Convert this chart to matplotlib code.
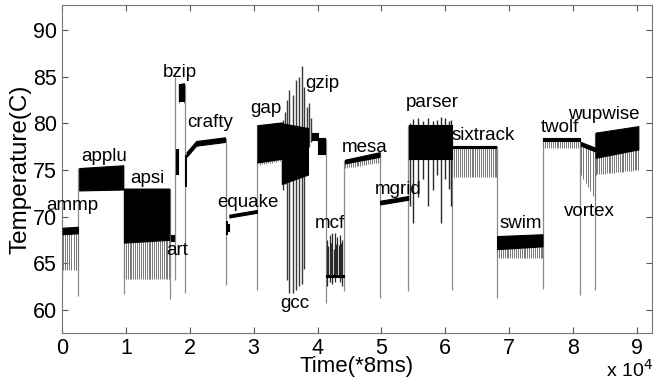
#!/usr/bin/env python3
"""SPEC2000 temperature trace - redrawn as bands, combs and spikes."""
import matplotlib
matplotlib.use('Agg')
import matplotlib.pyplot as plt
import numpy as np

plt.rcParams['font.family'] = ['Liberation Sans', 'DejaVu Sans']

# ====== data (time in units of 1e4 samples, temperature in C) ======
# steady phase of each benchmark: black core band [core, top], grey oscillation down to low
seg_name = ['ammp', 'applu', 'apsi', 'art', 'bzip_a', 'bzip', 'crafty_a', 'crafty_b',
            'equake_a', 'equake', 'gap', 'gcc', 'gzip_a', 'gzip_b', 'mcf', 'mesa', 'mgrid',
            'parser', 'sixtrack', 'swim', 'twolf', 'vortex', 'wupwise']
seg_x0 = [0.01, 0.27, 0.97, 1.70, 1.79, 1.83, 1.95, 2.10, 2.58, 2.62, 3.06, 3.44, 3.92, 4.00,
          4.14, 4.43, 4.98, 5.43, 6.11, 6.81, 7.53, 8.12, 8.35]
seg_x1 = [0.25, 0.96, 1.68, 1.76, 1.81, 1.91, 2.10, 2.55, 2.61, 3.05, 3.44, 3.85, 4.00, 4.12,
          4.41, 4.97, 5.42, 6.10, 6.80, 7.52, 8.10, 8.34, 9.02]
top0 = [68.8, 75.2, 73.0, 68.0, 77.2, 84.2, 76.9, 78.1, 69.2, 70.2, 79.8, 80.0, 79.0, 78.4,
        63.7, 76.1, 71.7, 79.8, 77.6, 67.9, 78.4, 78.0, 79.0]
top1 = [68.9, 75.5, 73.0, 68.0, 77.2, 84.3, 78.1, 78.5, 69.2, 70.7, 80.1, 79.5, 79.0, 78.4,
        63.7, 76.9, 72.2, 79.8, 77.6, 68.1, 78.4, 77.4, 79.7]
core0 = [68.1, 72.8, 67.2, 67.4, 74.6, 82.4, 76.4, 77.6, 68.5, 69.9, 75.8, 73.5, 78.2, 76.7,
         63.5, 75.7, 71.3, 76.2, 77.3, 66.5, 78.1, 77.6, 76.3]
core1 = [68.2, 72.9, 67.5, 67.4, 74.6, 82.4, 77.6, 78.0, 68.5, 70.4, 76.2, 74.5, 78.2, 76.7,
         63.5, 76.4, 71.8, 76.2, 77.3, 66.8, 78.1, 77.0, 77.2]
low0 = [64.3, 72.8, 63.3, 67.4, 74.6, 82.2, 76.4, 77.6, 68.5, 69.9, 75.5, 73.5, 78.2, 76.7,
        63.5, 75.2, 71.3, 76.2, 74.2, 65.5, 77.3, 74.5, 74.5]
low1 = [64.3, 72.9, 63.3, 67.4, 74.6, 82.2, 77.6, 78.0, 68.5, 70.4, 76.0, 74.5, 78.2, 76.7,
        63.5, 75.8, 71.8, 76.2, 74.2, 65.6, 77.3, 71.8, 75.0]

# drops between benchmarks
dip_x = [0.005, 0.255, 0.965, 1.69, 1.775, 1.925, 2.57, 3.05, 4.13, 4.42, 4.975, 5.42,
         6.105, 6.805, 7.525, 8.11, 8.345]
dip_min = [63.0, 61.5, 61.7, 61.1, 63.2, 61.8, 62.6, 62.1, 60.7, 62.0, 61.3, 62.0,
           62.1, 61.3, 62.2, 61.6, 62.1]
dip_top = [68.8, 75.2, 73.0, 73.0, 85.0, 84.2, 78.4, 79.8, 78.3, 76.1, 76.9, 79.8,
           79.8, 77.6, 78.4, 78.4, 79.0]

# irregular spikes (gcc, gzip start, mcf, parser, bzip/crafty)
gcc_x = [3.46, 3.49, 3.52, 3.56, 3.61, 3.66, 3.71, 3.75, 3.79, 3.83, 3.87, 3.90]
gcc_lo = [72.9, 73.5, 63.2, 61.8, 61.8, 62.1, 62.5, 62.8, 64.4, 75.0, 77.5, 78.0]
gcc_hi = [80.4, 81.2, 82.5, 83.6, 83.0, 84.6, 85.0, 86.1, 83.9, 81.8, 82.2, 80.6]
mcf_x = [4.15, 4.17, 4.19, 4.21, 4.23, 4.25, 4.27, 4.29, 4.31, 4.33, 4.35, 4.37, 4.39]
mcf_lo = [62.5, 63.5, 63.0, 63.8, 62.8, 63.6, 63.0, 63.8, 63.5, 63.6, 63.0, 63.4, 62.5]
mcf_hi = [67.5, 66.8, 68.0, 67.2, 68.2, 66.5, 68.2, 67.0, 67.8, 66.9, 68.0, 67.2, 67.5]
parser_x = [5.45, 5.50, 5.57, 5.65, 5.73, 5.81, 5.87, 5.93, 5.99, 6.05, 6.09]
parser_lo = [71.1, 69.3, 72.1, 74.0, 71.1, 72.9, 74.5, 69.3, 74.0, 73.0, 71.1]
parser_hi = [80.0, 80.5, 80.6, 80.3, 80.6, 80.2, 80.4, 80.7, 80.6, 80.2, 80.4]
misc_x = [1.80, 1.94, 2.59]
misc_lo = [74.5, 73.2, 68.0]
misc_hi = [77.0, 76.6, 69.5]

labels = ['ammp', 'applu', 'apsi', 'art', 'bzip', 'crafty', 'equake', 'gap', 'gcc', 'gzip',
          'mcf', 'mesa', 'mgrid', 'parser', 'sixtrack', 'swim', 'twolf', 'vortex', 'wupwise']
label_x = [0.17, 0.66, 1.34, 1.80, 1.85, 2.32, 2.91, 3.19, 3.65, 4.08,
           4.19, 4.73, 5.26, 5.79, 6.60, 7.18, 7.79, 8.26, 8.48]
label_y = [71.2, 76.4, 74.1, 66.4, 85.5, 80.1, 71.5, 81.6, 60.7, 84.3,
           69.3, 77.4, 72.9, 82.2, 78.7, 69.2, 79.6, 70.5, 81.0]

fig = plt.figure(figsize=(6.59, 3.83), dpi=100)
ax = fig.add_axes([0.094, 0.1305, 0.895, 0.8565])

# transitions
ax.vlines(dip_x, dip_min, dip_top, color='#8c8c8c', lw=0.9, zorder=1)

# steady phases
for i in range(len(seg_name)):
    n = max(int((seg_x1[i] - seg_x0[i]) * 36), 2)
    xs = np.linspace(seg_x0[i], seg_x1[i], n)
    core = np.interp(xs, [seg_x0[i], seg_x1[i]], [core0[i], core1[i]])
    top = np.interp(xs, [seg_x0[i], seg_x1[i]], [top0[i], top1[i]])
    low = np.interp(xs, [seg_x0[i], seg_x1[i]], [low0[i], low1[i]])
    if low0[i] < core0[i] - 0.05 or low1[i] < core1[i] - 0.05:
        ax.vlines(xs, low, core, color='#777777', lw=0.7, zorder=2)
    ax.fill_between(xs, core, top, color='black', lw=0.8, edgecolor='black', zorder=3)

ax.vlines(gcc_x, gcc_lo, gcc_hi, color='#3a3a3a', lw=1.0, zorder=2)
ax.vlines(mcf_x, mcf_lo, mcf_hi, color='#2a2a2a', lw=0.9, zorder=2)
ax.vlines(parser_x, parser_lo, parser_hi, color='#2a2a2a', lw=1.0, zorder=2)
ax.vlines(misc_x, misc_lo, misc_hi, color='black', lw=1.4, zorder=3)

for t, x, y in zip(labels, label_x, label_y):
    ax.text(x, y, t, ha='center', va='center', fontsize=13.5, zorder=5)

ax.set_xlim(0, 9.23)
ax.set_ylim(57.5, 92.7)
ax.set_xticks(range(10))
ax.set_yticks(range(60, 91, 5))
ax.tick_params(direction='in', top=True, right=True, labelsize=15.5, length=4, color='#555555')
for s in ax.spines.values():
    s.set_color('#777777')
ax.set_xlabel('Time(*8ms)', fontsize=16, labelpad=-2)
ax.set_ylabel('Temperature(C)', fontsize=17.5, labelpad=1)
fig.text(0.991, 0.035, r'x 10$^4$', ha='right', va='center', fontsize=14)

plt.savefig('out.png', dpi=100)
plt.close()
